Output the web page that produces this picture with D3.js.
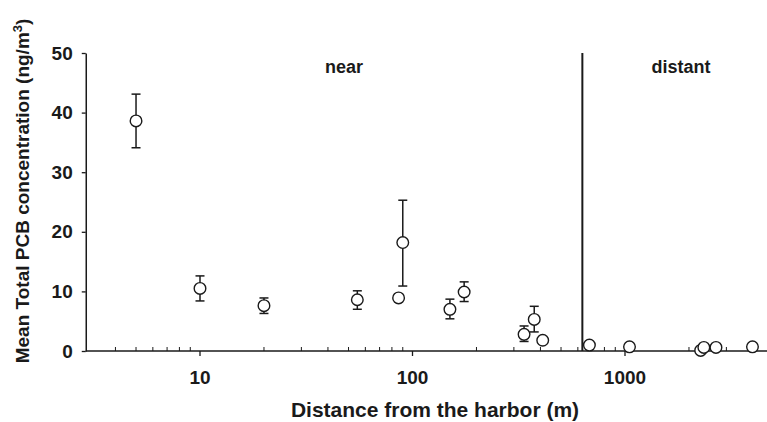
<!DOCTYPE html>
<html>
<head>
<meta charset="utf-8">
<title>PCB vs distance</title>
<script src="https://d3js.org/d3.v7.min.js"></script>
<style>
  body { margin: 0; background: #fff; }
  svg text { font-family: "Liberation Sans", Arial, sans-serif; fill: #1a1a1a; }
</style>
</head>
<body>
<div id="chart"></div>
<script>
// distance (m), mean concentration and error bar ends
const distance = [5, 10, 20, 55, 86, 90, 150, 175, 335, 374, 410, 680, 1050, 2270, 2350, 2680, 3980];
const meanPCB  = [38.6, 10.5, 7.6, 8.6, 8.9, 18.2, 7.0, 9.9, 2.8, 5.3, 1.8, 1.0, 0.7, 0.1, 0.6, 0.6, 0.7];
const upperPCB = [43.1, 12.6, 8.9, 10.1, 9.5, 25.3, 8.7, 11.6, 4.2, 7.5, 2.3, 1.4, 1.0, 0.3, 0.9, 0.9, 1.0];
const lowerPCB = [34.1, 8.4, 6.3, 7.0, 8.3, 10.9, 5.4, 8.3, 1.6, 3.2, 1.3, 0.6, 0.4, 0.0, 0.3, 0.3, 0.4];
const yTicks = [0, 10, 20, 30, 40, 50];
const xMajor = [10, 100, 1000];
const xMinor = [4, 5, 6, 7, 8, 9, 20, 30, 40, 50, 60, 70, 80, 90,
                200, 300, 400, 500, 600, 700, 800, 900, 2000, 3000, 4000];
const boundary = 630;

const width = 767, height = 422;

const svg = d3.select("#chart").append("svg")
  .attr("width", width)
  .attr("height", height);

const x = d3.scaleLog()
  .domain([10, 1000])
  .range([200, 625]);
const xMin = 2.9, xMax = 4700;

const y = d3.scaleLinear()
  .domain([0, 50])
  .range([351, 53]);

// y axis
const yAxis = svg.append("g")
  .attr("transform", "translate(" + x(xMin) + ",0)")
  .call(d3.axisLeft(y).tickValues(yTicks).tickSize(4).tickSizeOuter(0).tickPadding(9));
yAxis.selectAll("text").style("font-size", "19px").style("font-weight", "bold");

// x axis: major ticks out, minor ticks in
const xg = svg.append("g").attr("transform", "translate(0," + y(0) + ")");
xg.append("line")
  .attr("x1", x(xMin)).attr("x2", x(xMax))
  .attr("stroke", "#1a1a1a").attr("stroke-width", 1.5);
xg.selectAll(".major").data(xMajor).enter().append("line")
  .attr("x1", d => x(d)).attr("x2", d => x(d))
  .attr("y1", 0).attr("y2", 5)
  .attr("stroke", "#1a1a1a").attr("stroke-width", 1.3);
xg.selectAll(".minor").data(xMinor).enter().append("line")
  .attr("x1", d => x(d)).attr("x2", d => x(d))
  .attr("y1", 0).attr("y2", -4)
  .attr("stroke", "#1a1a1a").attr("stroke-width", 1);
xg.selectAll(".lab").data(xMajor).enter().append("text")
  .attr("x", d => x(d)).attr("y", 33)
  .attr("text-anchor", "middle")
  .style("font-size", "19px").style("font-weight", "bold")
  .text(d => d);

svg.selectAll(".domain").attr("stroke", "#1a1a1a").attr("stroke-width", 1.5);
yAxis.selectAll(".tick line").attr("stroke", "#1a1a1a").attr("stroke-width", 1.3);

// near / distant divider
svg.append("line")
  .attr("x1", x(boundary)).attr("x2", x(boundary))
  .attr("y1", y(50)).attr("y2", y(0))
  .attr("stroke", "#1a1a1a").attr("stroke-width", 2);

svg.append("text").attr("x", 344).attr("y", 73)
  .attr("text-anchor", "middle")
  .style("font-size", "18px").style("font-weight", "bold")
  .text("near");
svg.append("text").attr("x", 681).attr("y", 73)
  .attr("text-anchor", "middle")
  .style("font-size", "18px").style("font-weight", "bold")
  .text("distant");

// error bars
const pts = distance.map((d, i) => ({ d: d, m: meanPCB[i], hi: upperPCB[i], lo: lowerPCB[i] }));
const eb = svg.append("g").attr("stroke", "#1a1a1a").attr("stroke-width", 1.5);
pts.forEach(p => {
  const cx = x(p.d);
  eb.append("line").attr("x1", cx).attr("x2", cx).attr("y1", y(p.hi)).attr("y2", y(p.lo));
  eb.append("line").attr("x1", cx - 4.5).attr("x2", cx + 4.5).attr("y1", y(p.hi)).attr("y2", y(p.hi));
  eb.append("line").attr("x1", cx - 4.5).attr("x2", cx + 4.5).attr("y1", y(p.lo)).attr("y2", y(p.lo));
});

svg.append("g").selectAll("circle").data(pts).enter().append("circle")
  .attr("cx", p => x(p.d))
  .attr("cy", p => y(p.m))
  .attr("r", 5.8)
  .attr("fill", "#fff")
  .attr("stroke", "#1a1a1a")
  .attr("stroke-width", 1.4);

// axis titles
svg.append("text")
  .attr("x", 435).attr("y", 417)
  .attr("text-anchor", "middle")
  .style("font-size", "21px").style("font-weight", "bold")
  .text("Distance from the harbor (m)");

const yl = svg.append("text")
  .attr("transform", "translate(29,191) rotate(-90)")
  .attr("text-anchor", "middle")
  .style("font-size", "19px").style("font-weight", "bold");
yl.append("tspan").text("Mean Total PCB concentration (ng/m");
yl.append("tspan").attr("dy", -7).style("font-size", "13px").text("3");
yl.append("tspan").attr("dy", 7).text(")");
</script>
</body>
</html>
